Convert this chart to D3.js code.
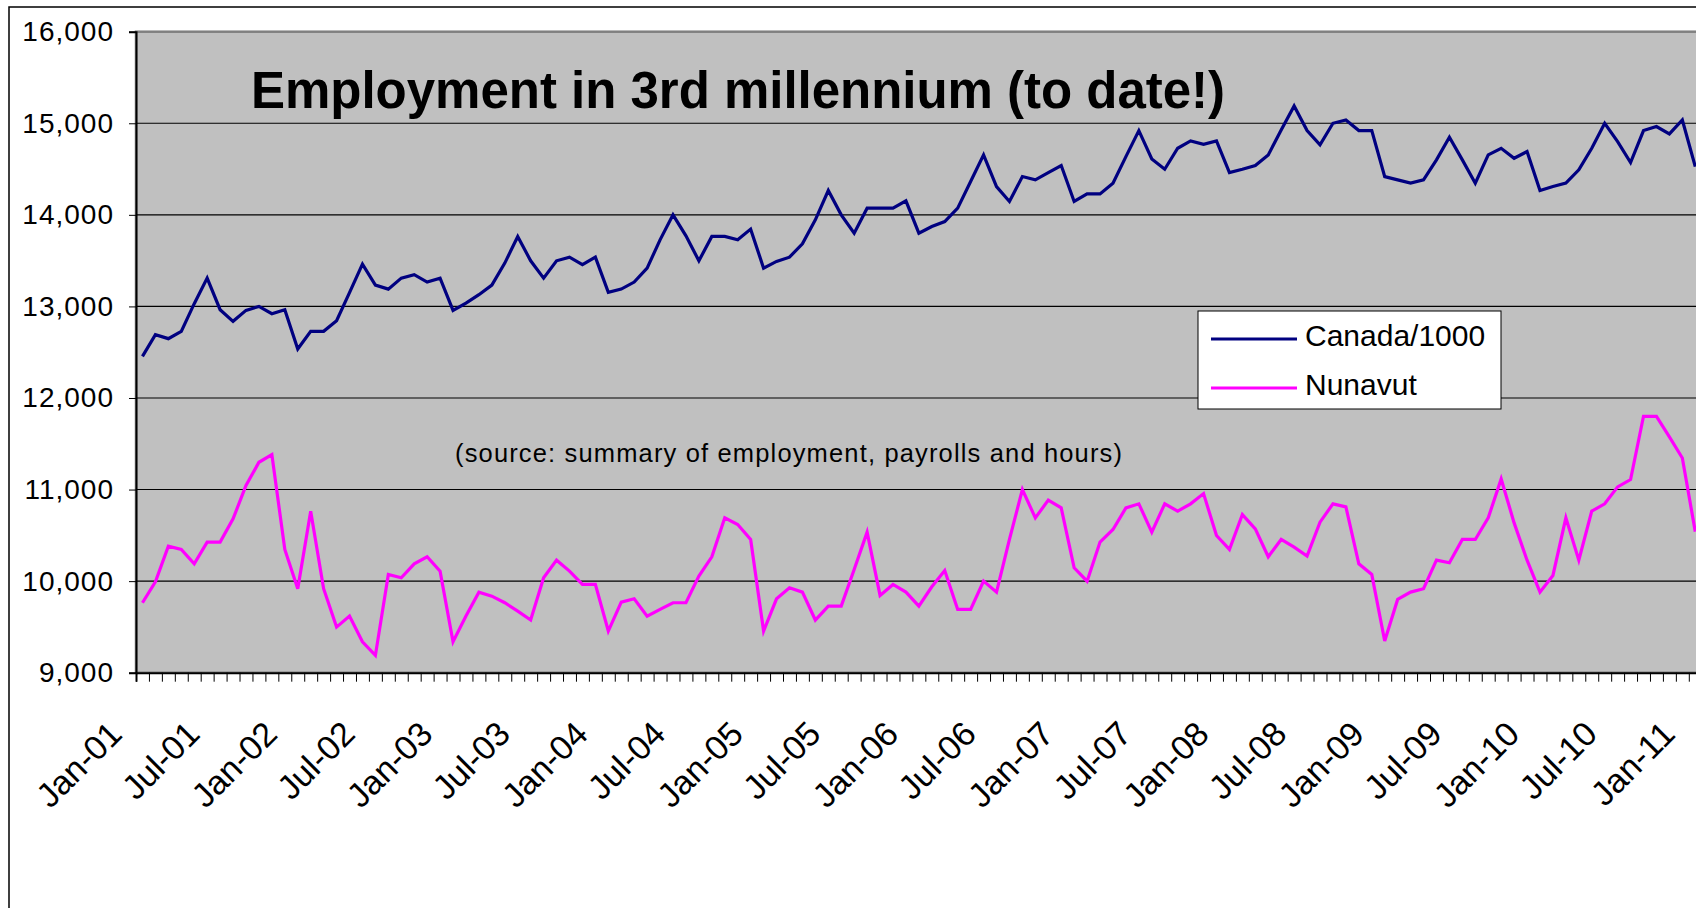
<!DOCTYPE html>
<html>
<head>
<meta charset="utf-8">
<script src="https://cdn.jsdelivr.net/npm/d3@7"></script>
<style>
  body { margin: 0; background: #fff; }
  text { font-family: "Liberation Sans", Arial, sans-serif; }
</style>
</head>
<body>
<div id="chart"></div>
<script>
// monthly values, Jan-01 .. Jan-11
const canada = [
  12455,12691,12648,12728,13030,13309,12964,12837,12957,13000,12920,12964,
  12535,12728,12728,12844,13150,13462,13233,13189,13309,13346,13266,13309,
  12957,13037,13128,13233,13473,13764,13498,13309,13498,13538,13455,13538,
  13153,13189,13266,13418,13727,14000,13771,13498,13764,13764,13727,13844,
  13418,13491,13538,13684,13946,14266,14000,13800,14073,14073,14073,14153,
  13800,13873,13927,14073,14364,14655,14309,14146,14418,14382,14462,14538,
  14146,14229,14229,14346,14636,14920,14611,14498,14727,14807,14771,14807,
  14462,14498,14538,14655,14927,15189,14920,14764,15000,15036,14920,14920,
  14418,14382,14346,14382,14600,14847,14600,14346,14655,14727,14618,14691,
  14266,14309,14346,14491,14727,15000,14800,14571,14920,14964,14884,15036,
  14527
];
const nunavut = [
  9764,9993,10382,10346,10189,10426,10426,10680,11044,11298,11382,10346,
  9917,10764,9917,9498,9618,9338,9189,10073,10036,10189,10266,10109,
  9338,9618,9880,9836,9764,9673,9575,10036,10229,10109,9964,9964,
  9455,9771,9807,9618,9691,9764,9764,10055,10266,10691,10618,10455,
  9455,9807,9927,9880,9575,9727,9727,10127,10535,9844,9964,9880,
  9727,9938,10116,9691,9691,10000,9880,10455,11000,10691,10884,10800,
  10146,10000,10426,10564,10800,10844,10535,10844,10764,10844,10956,10498,
  10346,10727,10571,10266,10455,10371,10273,10644,10844,10811,10189,10073,
  9346,9800,9880,9917,10229,10200,10455,10455,10691,11116,10636,10229,
  9880,10062,10691,10229,10764,10844,11029,11109,11800,11800,11575,11345,
  10540
];
const xLabels = ["Jan-01","Jul-01","Jan-02","Jul-02","Jan-03","Jul-03","Jan-04","Jul-04",
  "Jan-05","Jul-05","Jan-06","Jul-06","Jan-07","Jul-07","Jan-08","Jul-08",
  "Jan-09","Jul-09","Jan-10","Jul-10","Jan-11"];
const yTicks = [9000,10000,11000,12000,13000,14000,15000,16000];
const seriesNames = ["Canada/1000", "Nunavut"];
const seriesColors = ["#000080", "#ff00ff"];

const width = 1696, height = 908;
const plotLeft = 136, plotTop = 31.7, plotBottom = 672.7, monthW = 12.94;
const nCats = 124; // plot runs on past the right edge of the picture

const svg = d3.select("#chart").append("svg")
    .attr("width", width)
    .attr("height", height);

// outer chart frame
svg.append("rect")
    .attr("x", 9).attr("y", 7)
    .attr("width", 1800).attr("height", 1000)
    .attr("fill", "#fff").attr("stroke", "#000").attr("stroke-width", 1.5);

const x = d3.scaleBand().domain(d3.range(nCats)).range([plotLeft, plotLeft + nCats * monthW]);
const xEdge = d3.scaleLinear().domain([0, nCats]).range([plotLeft, plotLeft + nCats * monthW]);
const y = d3.scaleLinear().domain([9000, 16000]).range([plotBottom, plotTop]);
const cx = i => x(i) + x.bandwidth() / 2;

// plot area
svg.append("rect")
    .attr("x", plotLeft).attr("y", plotTop)
    .attr("width", nCats * monthW).attr("height", plotBottom - plotTop)
    .attr("fill", "#c0c0c0").attr("stroke", "#808080").attr("stroke-width", 2.5);

// gridlines
svg.append("g").selectAll("line")
    .data(yTicks.filter(d => d > 9000 && d < 16000))
    .enter().append("line")
    .attr("x1", plotLeft).attr("x2", plotLeft + nCats * monthW)
    .attr("y1", d => y(d)).attr("y2", d => y(d))
    .attr("stroke", "#000").attr("stroke-width", 1.1);

// y axis
const yAxis = svg.append("g")
    .attr("transform", `translate(${plotLeft},0)`)
    .call(d3.axisLeft(y).tickValues(yTicks).tickSize(7).tickPadding(15).tickFormat(d3.format(",")));
yAxis.select(".domain").attr("stroke-width", 2);
yAxis.selectAll("text").attr("font-size", 28).attr("fill", "#000")
    .attr("letter-spacing", 1)
    .attr("font-family", "'Liberation Sans', Arial, sans-serif");

// x axis: a tick between every month
const xAxis = svg.append("g")
    .attr("transform", `translate(0,${plotBottom})`)
    .call(d3.axisBottom(xEdge).tickValues(d3.range(nCats + 1)).tickSize(9).tickFormat(""));
xAxis.select(".domain").attr("stroke-width", 2);

// rotated month labels every 6 months
svg.append("g").selectAll("text")
    .data(xLabels)
    .enter().append("text")
    .attr("transform", (d, k) => `translate(${cx(k * 6) - 18.5},736) rotate(-45)`)
    .attr("text-anchor", "end")
    .attr("font-size", 34)
    .text(d => d);

// series lines
const line = d3.line().x((d, i) => cx(i)).y(d => y(d));
[canada, nunavut].forEach((s, k) => {
  svg.append("path")
      .datum(s)
      .attr("d", line)
      .attr("fill", "none")
      .attr("stroke", seriesColors[k])
      .attr("stroke-width", 3.2);
});

// title and source note
svg.append("text")
    .attr("x", 251).attr("y", 108)
    .attr("font-size", 51).attr("font-weight", "bold")
    .attr("textLength", 974).attr("lengthAdjust", "spacing")
    .text("Employment in 3rd millennium (to date!)");

svg.append("text")
    .attr("x", 455).attr("y", 462)
    .attr("font-size", 25.5)
    .attr("textLength", 667).attr("lengthAdjust", "spacing")
    .text("(source: summary of employment, payrolls and hours)");

// legend
const leg = svg.append("g");
leg.append("rect")
    .attr("x", 1198).attr("y", 311).attr("width", 303).attr("height", 98)
    .attr("fill", "#fff").attr("stroke", "#000").attr("stroke-width", 1);
seriesNames.forEach((n, k) => {
  leg.append("line")
      .attr("x1", 1211).attr("x2", 1297)
      .attr("y1", 339 + k * 49).attr("y2", 339 + k * 49)
      .attr("stroke", seriesColors[k]).attr("stroke-width", 3);
  leg.append("text")
      .attr("x", 1305).attr("y", 346 + k * 48.5)
      .attr("font-size", 30)
      .text(n);
});
</script>
</body>
</html>
